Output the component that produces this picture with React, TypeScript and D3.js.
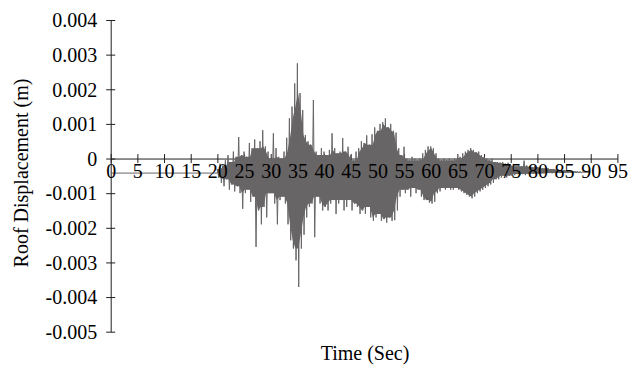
import { useEffect, useRef } from "react";
import * as d3 from "d3";

const WIDTH = 628;
const HEIGHT = 366;
const PLOT = { left: 110.7, right: 617.4, top: 20, bottom: 331.7 };
const FONT = "'Liberation Serif', 'Times New Roman', serif";
const FONT_SIZE = 20;
const AXIS_COLOR = "#231f20";
const SIGNAL_COLOR = "#686566";
const TICK_HALF = 4.5;

const X_TICKS = d3.range(0, 96, 5);
const Y_TICKS = [0.004, 0.003, 0.002, 0.001, 0, -0.001, -0.002, -0.003, -0.004, -0.005];

// quiet part of the record before the shaking starts (s, mm)
const LEAD_TIMES = [0, 20];
const LEAD_MM = [-0.42, -0.42];

// peaks, one max + one min per half second from 20 s (mm)
const PEAK_START = 20;
const PEAK_STEP = 0.5;
const UPPER_MM = [
  -0.3, -0.15, -0.2, -0.05, 0.1, -0.1, 0.2, 0.05, 0.62, 0.1,
  0.2, 0.05, 0.45, 0.3, 0.55, 0.3, 0.5, 0.82, 0.35, 0.2,
  0.0, 0.73, 0.3, 0.05, 0.0, 0.2, 0.6, 1.16, 1.5, 2.17,
  2.75, 1.89, 1.4, 0.68, 0.5, 0.4, 1.69, 0.2, 0.1, 0.3,
  0.2, 0.1, 0.25, 0.73, 0.3, 0.15, 0.2, 0.59, 0.2, 0.34,
  0.1, -0.05, 0.2, 0.3, 0.5, 0.45, 0.67, 0.4, 0.7, 0.9,
  0.8, 1.0, 1.05, 1.16, 0.9, 1.0, 0.8, 0.75, 0.3, 0.1,
  0.34, 0.0, -0.05, 0.05, 0.0, -0.05, 0.0, 0.15, 0.25, 0.35,
  0.35, 0.3, 0.15, 0.0, -0.05, 0.0, -0.05, 0.0, -0.05, 0.0,
  0.0, 0.05, 0.15, 0.2, 0.25, 0.3, 0.25, 0.18, 0.2, 0.1,
  0.05, 0.0, -0.05, 0.0, -0.1, -0.1, -0.12, -0.1, -0.15, -0.12,
  -0.2, -0.18, -0.22, -0.2, -0.22, -0.06, -0.2, -0.22, -0.25, -0.22,
  -0.25, -0.24, -0.28, -0.27, -0.28, -0.3, -0.3, -0.31, -0.32, -0.33,
  -0.33, -0.34, -0.35, -0.36, -0.37, -0.37, -0.38, -0.38, -0.39, -0.39,
];
const LOWER_MM = [
  -0.55, -0.7, -0.8, -0.6, -0.9, -0.75, -0.95, -0.8, -1.0, -1.45,
  -1.0, -0.9, -1.25, -1.1, -2.55, -1.5, -1.9, -1.4, -1.7, -1.0,
  -1.0, -1.3, -1.9, -1.2, -1.1, -1.3, -1.9, -2.36, -2.6, -2.94,
  -3.71, -2.6, -2.2, -1.7, -1.4, -1.3, -2.27, -1.1, -1.3, -1.5,
  -1.4, -1.5, -1.3, -1.2, -1.6, -1.3, -1.2, -1.5, -1.4, -1.2,
  -1.5, -1.3, -1.4, -1.6, -1.5, -1.6, -1.4, -1.7, -1.8, -1.7,
  -1.6, -1.8, -1.75, -1.85, -1.7, -1.8, -1.78, -1.5, -1.1, -0.9,
  -1.0, -0.9, -1.1, -0.85, -1.0, -0.9, -1.1, -1.2, -1.2, -1.27,
  -1.3, -1.25, -1.0, -0.95, -0.85, -0.9, -0.85, -0.9, -0.9, -0.85,
  -0.9, -0.95, -1.0, -1.05, -1.1, -1.15, -1.1, -1.0, -0.95, -0.9,
  -0.85, -0.8, -0.75, -0.7, -0.6, -0.6, -0.55, -0.5, -0.55, -0.5,
  -0.5, -0.48, -0.45, -0.47, -0.45, -0.48, -0.45, -0.44, -0.44, -0.45,
  -0.44, -0.43, -0.43, -0.43, -0.42, -0.43, -0.42, -0.42, -0.42, -0.42,
  -0.42, -0.42, -0.41, -0.41, -0.41, -0.41, -0.41, -0.4, -0.4, -0.4,
];

type Bin = { t: number; hi: number; lo: number };

export default function App() {
  const svgRef = useRef<SVGSVGElement>(null);

  useEffect(() => {
    if (!svgRef.current) return;
    const svg = d3.select(svgRef.current);
    svg.selectAll("*").remove();

    const x = d3.scaleLinear().domain([0, 95]).range([PLOT.left, PLOT.right]);
    const y = d3.scaleLinear().domain([-0.005, 0.004]).range([PLOT.bottom, PLOT.top]);

    const bins: Bin[] = UPPER_MM.map((u, i) => ({
      t: PEAK_START + i * PEAK_STEP,
      hi: u / 1000,
      lo: LOWER_MM[i] / 1000,
    }));

    // solid core of the record: the band every neighbouring peak reaches
    const core: Bin[] = bins.map((b, i) => {
      const win = bins.slice(Math.max(0, i - 1), i + 2);
      return {
        t: b.t,
        hi: d3.min(win, (w) => w.hi) as number,
        lo: d3.max(win, (w) => w.lo) as number,
      };
    });

    // record: quiet lead-in, then alternating max/min peaks
    const points: [number, number][] = LEAD_TIMES.map((t, i) => [t, LEAD_MM[i] / 1000]);
    bins.forEach((b) => {
      points.push([b.t, b.hi]);
      points.push([b.t + PEAK_STEP / 2, b.lo]);
    });

    // y-axis
    const yAxis = svg
      .append("g")
      .attr("transform", `translate(${PLOT.left},0)`)
      .call(
        d3
          .axisLeft(y)
          .tickValues(Y_TICKS)
          .tickSizeOuter(0)
          .tickFormat((d) => (+d === 0 ? "0" : (+d).toFixed(3)))
      );
    yAxis.select(".domain").attr("stroke", AXIS_COLOR);
    yAxis
      .selectAll(".tick line")
      .attr("x1", -TICK_HALF)
      .attr("x2", TICK_HALF)
      .attr("stroke", AXIS_COLOR);
    yAxis
      .selectAll(".tick text")
      .attr("x", -13.5)
      .attr("dy", "0.34em")
      .attr("fill", "#000")
      .style("font-family", FONT)
      .style("font-size", `${FONT_SIZE}px`);

    // x-axis line and ticks (under the record)
    const xAxisLines = svg
      .append("g")
      .attr("transform", `translate(0,${y(0)})`)
      .call(d3.axisBottom(x).tickValues(X_TICKS).tickSizeOuter(0).tickFormat(() => ""));
    xAxisLines.select(".domain").attr("stroke", AXIS_COLOR);
    xAxisLines
      .selectAll(".tick line")
      .attr("y1", -TICK_HALF)
      .attr("y2", TICK_HALF)
      .attr("stroke", AXIS_COLOR);

    svg
      .append("path")
      .datum(core)
      .attr("fill", SIGNAL_COLOR)
      .attr(
        "d",
        d3
          .area<Bin>()
          .x((d) => x(d.t + PEAK_STEP / 4))
          .y0((d) => y(d.lo))
          .y1((d) => y(d.hi))
      );

    // peaks
    svg
      .append("path")
      .datum(points)
      .attr("fill", "none")
      .attr("stroke", SIGNAL_COLOR)
      .attr("stroke-width", 1)
      .attr(
        "d",
        d3
          .line<[number, number]>()
          .x((d) => x(d[0]))
          .y((d) => y(d[1]))
      );

    // x tick labels on top of the record
    const xAxisText = svg
      .append("g")
      .attr("transform", `translate(0,${y(0)})`)
      .call(d3.axisBottom(x).tickValues(X_TICKS).tickSize(0));
    xAxisText.select(".domain").remove();
    xAxisText
      .selectAll(".tick text")
      .attr("y", 5.5)
      .attr("dy", "0.71em")
      .attr("fill", "#000")
      .style("font-family", FONT)
      .style("font-size", `${FONT_SIZE}px`);

    svg
      .append("text")
      .attr("transform", "rotate(-90)")
      .attr("x", -173)
      .attr("y", 27.5)
      .attr("text-anchor", "middle")
      .style("font-family", FONT)
      .style("font-size", `${FONT_SIZE}px`)
      .text("Roof Displacement (m)");

    svg
      .append("text")
      .attr("x", 365)
      .attr("y", 360)
      .attr("text-anchor", "middle")
      .style("font-family", FONT)
      .style("font-size", `${FONT_SIZE}px`)
      .text("Time (Sec)");
  }, []);

  return (
    <svg
      ref={svgRef}
      width={WIDTH}
      height={HEIGHT}
      style={{ position: "absolute", left: 0, top: 0, background: "#fff" }}
    />
  );
}
